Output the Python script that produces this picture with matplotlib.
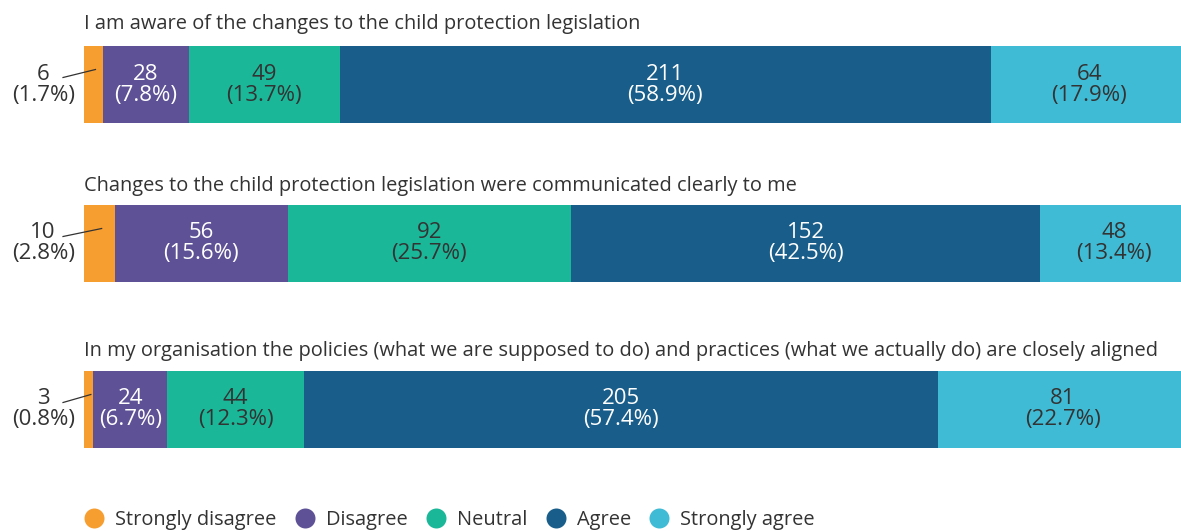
import matplotlib
matplotlib.use("Agg")
import matplotlib.pyplot as plt
from matplotlib.lines import Line2D

plt.rcParams['font.family'] = ['Open Sans', 'DejaVu Sans']

questions = [
    "I am aware of the changes to the child protection legislation",
    "Changes to the child protection legislation were communicated clearly to me",
    "In my organisation the policies (what we are supposed to do) and practices (what we actually do) are closely aligned",
]
categories = ["Strongly disagree", "Disagree", "Neutral", "Agree", "Strongly agree"]
counts = [
    [6, 28, 49, 211, 64],
    [10, 56, 92, 152, 48],
    [3, 24, 44, 205, 81],
]
percents = [
    [1.7, 7.8, 13.7, 58.9, 17.9],
    [2.8, 15.6, 25.7, 42.5, 13.4],
    [0.8, 6.7, 12.3, 57.4, 22.7],
]
colors = ["#F79E31", "#5E5196", "#1BB799", "#195E8A", "#40BBD5"]
text_colors = ["#333333", "white", "#333333", "white", "#333333"]

W, H = 1181, 531
fig = plt.figure(figsize=(W / 100, H / 100), dpi=100)
x0, x1 = 84, 1188
ax = fig.add_axes([x0 / W, 0, (x1 - x0) / W, 1])
ax.set_xlim(0, 100)
ax.set_ylim(H, 0)
ax.axis("off")

bar_centers = [84.5, 243.5, 409.5]
title_y = [24, 186, 351]
bar_h = 77
fs = 16

for qi, q in enumerate(questions):
    tot = sum(counts[qi])
    left = 0.0
    yc = bar_centers[qi]
    ax.text(0, title_y[qi], q, ha="left", va="center", fontsize=14.4, color="#333333")
    for ci, c in enumerate(counts[qi]):
        w = c / tot * 100
        ax.barh(yc, w, left=left, height=bar_h, color=colors[ci], linewidth=0)
        label = f"{c}\n({percents[qi][ci]:.1f}%)"
        if ci == 0:
            lx = -3.7
            ax.text(lx, yc, label, ha="center", va="center", fontsize=fs,
                    color="#333333", linespacing=1.0, clip_on=False)
            ax.plot([-1.9, left + w / 2 + 0.2], [yc - 7, yc - 15], color="#333333",
                    lw=0.9, clip_on=False)
        else:
            ax.text(left + w / 2, yc, label, ha="center", va="center", fontsize=fs,
                    color=text_colors[ci], linespacing=1.0)
        left += w

handles = [Line2D([], [], marker="o", linestyle="none", markersize=14.4,
                  markerfacecolor=col, markeredgewidth=0) for col in colors]
fig.legend(handles, categories, loc="center left", bbox_to_anchor=(82 / W, 1 - 520 / H),
           ncol=5, frameon=False, fontsize=14.4, handletextpad=0.45,
           columnspacing=0.82, handlelength=1.2, labelcolor="#333333",
           borderpad=0.0, borderaxespad=0.0)

fig.savefig("out.png", dpi=100)
